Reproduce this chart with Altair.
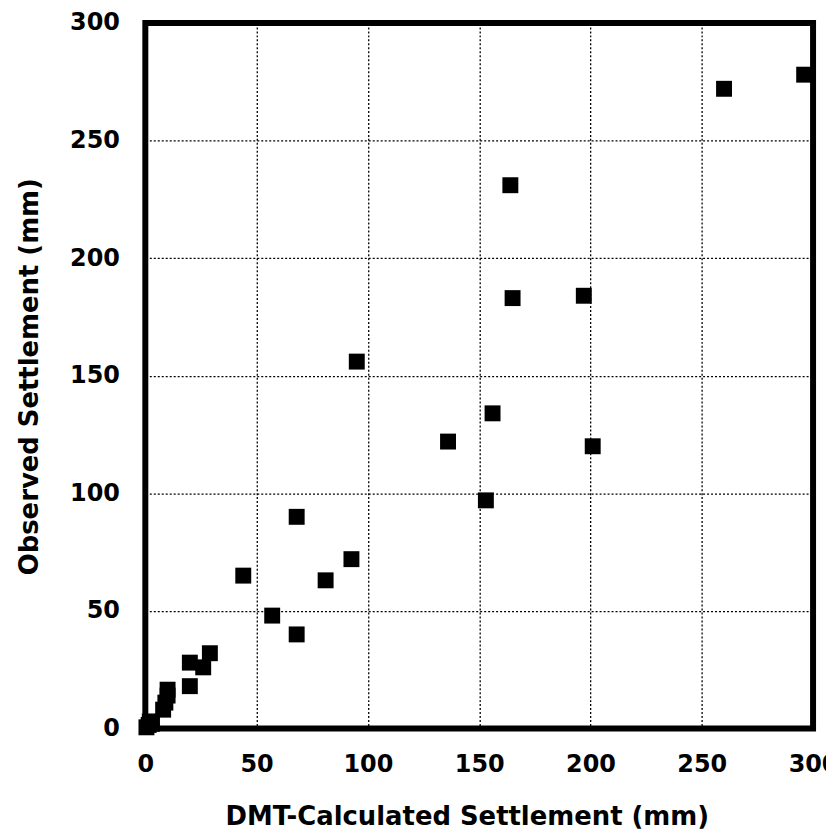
import altair as alt
import pandas as pd

# DMT-calculated settlement (mm)
calc = [0.5, 1.5, 2, 3, 8, 9, 10, 10, 20, 20, 26, 29, 44, 57, 68, 68, 81, 92.6,
        95, 136, 153, 156, 164, 165, 197, 201, 260, 296]
# Observed settlement (mm)
obs = [0.5, 1.5, 3, 2, 8, 11, 14, 16.5, 18, 28, 26, 32, 65, 48, 40, 90, 63, 72,
       156, 122, 97, 134, 231, 183, 184, 120, 272, 278]

ticks = [0, 50, 100, 150, 200, 250, 300]

df = pd.DataFrame({"calc": calc, "obs": obs})

FONT = "DejaVu Sans"

chart = alt.Chart(df).mark_point(
    shape="square", filled=True, color="black", opacity=1, size=256
).encode(
    x=alt.X("calc:Q",
            scale=alt.Scale(domain=[0, 300], nice=False, zero=True),
            axis=alt.Axis(values=ticks, title="DMT-Calculated Settlement (mm)",
                          titleX=323, titleY=96, titleBaseline="alphabetic",
                          titleAlign="center", labelPadding=24)),
    y=alt.Y("obs:Q",
            scale=alt.Scale(domain=[0, 300], nice=False, zero=True),
            axis=alt.Axis(values=ticks, title="Observed Settlement (mm)",
                          titleX=-108, titleY=355, titleAngle=270,
                          titleBaseline="alphabetic", titleAlign="center",
                          labelPadding=26)),
).properties(
    width=671, height=709,
    background="white",
    autosize=alt.AutoSizeParams(type="none"),
    padding={"left": 138, "top": 13, "right": 13, "bottom": 101},
).configure_view(
    stroke="black", strokeWidth=6, fill="white"
).configure_axis(
    domain=False, ticks=False,
    grid=True, gridColor="black", gridDash=[2, 2], gridWidth=1.3, gridOpacity=1,
    labelFont=FONT, labelFontWeight="bold", labelFontSize=24, labelColor="black",
    titleFont=FONT, titleFontWeight="bold", titleFontSize=26, titleColor="black",
    labelBound=False, labelFlush=False, labelOverlap=False,
)

chart.save("out.html", embed_options={"renderer": "svg", "actions": False})
